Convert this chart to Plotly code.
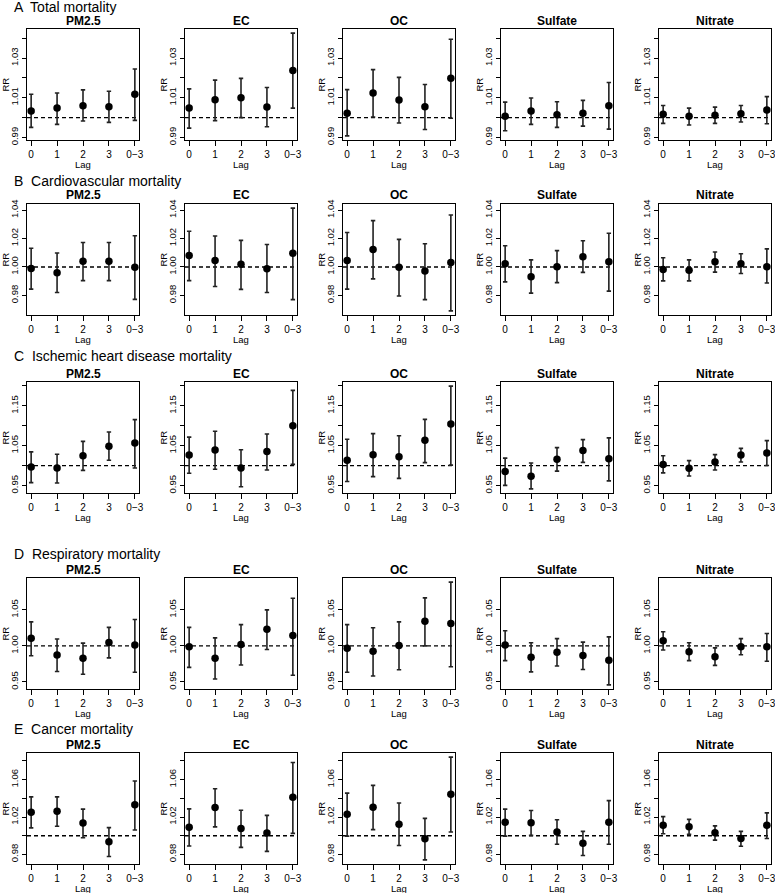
import plotly.graph_objects as go

W, H = 775, 893

lags = ["0", "1", "2", "3", "0\u22123"]
pollutants = ["PM2.5", "EC", "OC", "Sulfate", "Nitrate"]
outcomes = ["A  Total mortality", "B  Cardiovascular mortality",
            "C  Ischemic heart disease mortality", "D  Respiratory mortality",
            "E  Cancer mortality"]

# ---- Total mortality (rows: PM2.5, EC, OC, Sulfate, Nitrate; cols: lags) ----
total_rr = [[1.0034, 1.0048, 1.0060, 1.0055, 1.0118],
            [1.0048, 1.0090, 1.0100, 1.0053, 1.0237],
            [1.0022, 1.0124, 1.0089, 1.0055, 1.0198],
            [1.0007, 1.0034, 1.0015, 1.0022, 1.0060],
            [1.0017, 1.0007, 1.0012, 1.0019, 1.0039]]
total_lo = [[0.9951, 0.9966, 0.9983, 0.9976, 0.9986],
            [0.9947, 0.9985, 1.0000, 0.9954, 1.0048],
            [0.9908, 1.0003, 0.9973, 0.9940, 0.9997],
            [0.9934, 0.9966, 0.9951, 0.9957, 0.9942],
            [0.9971, 0.9963, 0.9971, 0.9978, 0.9969]]
total_hi = [[1.0118, 1.0124, 1.0140, 1.0133, 1.0245],
            [1.0145, 1.0189, 1.0198, 1.0152, 1.0426],
            [1.0141, 1.0242, 1.0203, 1.0167, 1.0395],
            [1.0078, 1.0099, 1.0080, 1.0087, 1.0177],
            [1.0061, 1.0048, 1.0053, 1.0061, 1.0106]]

# ---- Cardiovascular mortality ----
cardio_rr = [[0.9990, 0.9959, 1.0041, 1.0041, 0.9998],
             [1.0081, 1.0046, 1.0019, 0.9988, 1.0096],
             [1.0046, 1.0122, 0.9998, 0.9971, 1.0031],
             [1.0022, 0.9931, 1.0002, 1.0072, 1.0036],
             [0.9983, 0.9976, 1.0036, 1.0022, 1.0002]]
cardio_lo = [[0.9844, 0.9820, 0.9904, 0.9904, 0.9772],
             [0.9904, 0.9863, 0.9842, 0.9820, 0.9770],
             [0.9844, 0.9916, 0.9796, 0.9770, 0.9691],
             [0.9895, 0.9816, 0.9890, 0.9962, 0.9830],
             [0.9902, 0.9902, 0.9964, 0.9954, 0.9887]]
cardio_hi = [[1.0132, 1.0098, 1.0172, 1.0172, 1.0220],
             [1.0251, 1.0218, 1.0187, 1.0158, 1.0414],
             [1.0242, 1.0326, 1.0194, 1.0163, 1.0366],
             [1.0149, 1.0050, 1.0115, 1.0184, 1.0237],
             [1.0065, 1.0050, 1.0105, 1.0093, 1.0127]]

# ---- Ischemic heart disease mortality ----
ihd_rr = [[0.9969, 0.9943, 1.0250, 1.0487, 1.0566],
          [1.0268, 1.0390, 0.9943, 1.0355, 1.1004],
          [1.0136, 1.0276, 1.0224, 1.0636, 1.1048],
          [0.9855, 0.9732, 1.0162, 1.0382, 1.0171],
          [1.0031, 0.9934, 1.0092, 1.0268, 1.0320]]
ihd_lo = [[0.9575, 0.9566, 0.9882, 1.0136, 0.9943],
          [0.9811, 0.9908, 0.9469, 0.9890, 1.0031],
          [0.9601, 0.9724, 0.9680, 1.0075, 1.0013],
          [0.9504, 0.9417, 0.9864, 1.0083, 0.9618],
          [0.9820, 0.9741, 0.9890, 1.0092, 1.0004]]
ihd_hi = [[1.0346, 1.0285, 1.0610, 1.0846, 1.1154],
          [1.0715, 1.0864, 1.0399, 1.0794, 1.1890],
          [1.0662, 1.0803, 1.0750, 1.1162, 1.1996],
          [1.0189, 1.0066, 1.0452, 1.0654, 1.0697],
          [1.0250, 1.0127, 1.0276, 1.0434, 1.0627]]

# ---- Respiratory mortality ----
resp_rr = [[1.0105, 0.9871, 0.9829, 1.0048, 1.0010],
           [0.9986, 0.9829, 1.0019, 1.0229, 1.0143],
           [0.9967, 0.9924, 1.0005, 1.0343, 1.0310],
           [1.0010, 0.9843, 0.9910, 0.9867, 0.9800],
           [1.0071, 0.9919, 0.9848, 0.9986, 0.9986]]
resp_lo = [[0.9862, 0.9643, 0.9605, 0.9833, 0.9633],
           [0.9700, 0.9538, 0.9733, 0.9948, 0.9590],
           [0.9633, 0.9581, 0.9667, 1.0000, 0.9710],
           [0.9795, 0.9638, 0.9719, 0.9671, 0.9457],
           [0.9943, 0.9795, 0.9729, 0.9876, 0.9786]]
resp_hi = [[1.0333, 1.0095, 1.0038, 1.0257, 1.0367],
           [1.0257, 1.0110, 1.0295, 1.0500, 1.0662],
           [1.0295, 1.0252, 1.0333, 1.0667, 1.0886],
           [1.0210, 1.0043, 1.0100, 1.0052, 1.0124],
           [1.0195, 1.0043, 0.9971, 1.0100, 1.0171]]

# ---- Cancer mortality ----
cancer_rr = [[1.0251, 1.0262, 1.0135, 0.9935, 1.0331],
             [1.0091, 1.0302, 1.0076, 1.0029, 1.0411],
             [1.0229, 1.0305, 1.0124, 0.9967, 1.0444],
             [1.0145, 1.0138, 1.0040, 0.9920, 1.0145],
             [1.0113, 1.0095, 1.0033, 0.9971, 1.0113]]
cancer_lo = [[1.0084, 1.0102, 0.9978, 0.9778, 1.0062],
             [0.9891, 1.0095, 0.9876, 0.9833, 1.0025],
             [0.9996, 1.0065, 0.9895, 0.9742, 1.0040],
             [0.9996, 1.0004, 0.9909, 0.9789, 0.9909],
             [1.0022, 1.0015, 0.9953, 0.9887, 0.9971]]
cancer_hi = [[1.0415, 1.0415, 1.0284, 1.0087, 1.0585],
             [1.0287, 1.0502, 1.0273, 1.0218, 1.0782],
             [1.0455, 1.0538, 1.0349, 1.0185, 1.0840],
             [1.0284, 1.0269, 1.0171, 1.0047, 1.0375],
             [1.0204, 1.0175, 1.0105, 1.0047, 1.0244]]

# y tick values and labels per outcome row
total_ticks = [0.99, 1.00, 1.01, 1.02, 1.03, 1.04]
total_labels = ["0.99", "", "1.01", "", "1.03", ""]
cardio_ticks = [0.98, 1.00, 1.02, 1.04]
cardio_labels = ["0.98", "1.00", "1.02", "1.04"]
ihd_ticks = [0.95, 1.00, 1.05, 1.10, 1.15, 1.20]
ihd_labels = ["0.95", "", "1.05", "", "1.15", ""]
resp_ticks = [0.95, 1.00, 1.05]
resp_labels = ["0.95", "1.00", "1.05"]
cancer_ticks = [0.98, 1.00, 1.02, 1.04, 1.06, 1.08]
cancer_labels = ["0.98", "", "1.02", "", "1.06", ""]

rows = [
    (total_rr, total_lo, total_hi, total_ticks, total_labels),
    (cardio_rr, cardio_lo, cardio_hi, cardio_ticks, cardio_labels),
    (ihd_rr, ihd_lo, ihd_hi, ihd_ticks, ihd_labels),
    (resp_rr, resp_lo, resp_hi, resp_ticks, resp_labels),
    (cancer_rr, cancer_lo, cancer_hi, cancer_ticks, cancer_labels),
]

# ---- layout geometry (pixels) ----
col_left = [27, 185, 343, 501, 659]
box_w = 112
row_top = [29, 204, 382, 578, 753]
box_h = 111
section_y = [7, 181, 356, 554, 729]

FONT = "Liberation Sans, Arial, Helvetica, sans-serif"

fig = go.Figure()
layout = dict(
    width=W, height=H,
    margin=dict(l=0, r=0, t=0, b=0, autoexpand=False),
    paper_bgcolor="white", plot_bgcolor="white",
    showlegend=False,
    font=dict(family=FONT, color="black"),
)
annotations = []
shapes = []


def px_x(p):
    return p / W


def px_y(p):
    return 1 - p / H


for r, (rr_all, lo_all, hi_all, tv, tt) in enumerate(rows):
    ymin = min(min(v) for v in lo_all)
    ymax = max(max(v) for v in hi_all)
    span = ymax - ymin
    yrange = [ymin - 0.04 * span, ymax + 0.04 * span]
    top = row_top[r]
    bot = top + box_h
    annotations.append(dict(
        text=outcomes[r], x=px_x(12), y=px_y(section_y[r]), xref="paper", yref="paper",
        xanchor="left", yanchor="middle", showarrow=False,
        font=dict(size=14, family=FONT, color="black")))
    for c in range(5):
        k = r * 5 + c + 1
        xs = "x" if k == 1 else f"x{k}"
        ys = "y" if k == 1 else f"y{k}"
        rr = rr_all[c]
        lo = lo_all[c]
        hi = hi_all[c]
        fig.add_trace(go.Scatter(
            x=lags, y=rr, mode="markers", xaxis=xs, yaxis=ys,
            marker=dict(size=7.5, color="black"),
            error_y=dict(type="data", symmetric=False,
                         array=[h - m for h, m in zip(hi, rr)],
                         arrayminus=[m - l for m, l in zip(rr, lo)],
                         color="#222222", thickness=1.6, width=2.2),
            hoverinfo="skip"))
        left = col_left[c]
        right = left + box_w
        xkey = "xaxis" if k == 1 else f"xaxis{k}"
        ykey = "yaxis" if k == 1 else f"yaxis{k}"
        layout[xkey] = dict(
            domain=[px_x(left), px_x(right)], anchor=ys, automargin=False,
            type="category", categoryorder="array", categoryarray=lags,
            range=[-0.16, 4.16], ticklabelstandoff=0,
            showline=True, mirror=True, linecolor="black", linewidth=1.2,
            ticks="outside", ticklen=5, tickwidth=1, tickcolor="black",
            showgrid=False, zeroline=False,
            tickfont=dict(size=10, family=FONT, color="black"))
        layout[ykey] = dict(
            domain=[px_y(bot), px_y(top)], anchor=xs, automargin=False,
            range=yrange, tickmode="array", tickvals=tv, ticktext=tt,
            tickangle=-90, ticklabelstandoff=0,
            showline=True, mirror=True, linecolor="black", linewidth=1.2,
            ticks="outside", ticklen=4, tickwidth=1, tickcolor="black",
            showgrid=False, zeroline=False,
            tickfont=dict(size=9.5, family=FONT, color="black"))
        shapes.append(dict(
            type="line", xref=f"{xs} domain", yref=ys, x0=0, x1=1, y0=1.0, y1=1.0,
            line=dict(color="black", width=1.4, dash="4px,3px"), layer="below"))
        cx = (left + right) / 2
        annotations.append(dict(
            text=f"<b>{pollutants[c]}</b>", x=px_x(cx), y=px_y(top - 8.5),
            xref="paper", yref="paper", xanchor="center", yanchor="middle",
            showarrow=False, font=dict(size=12, family=FONT, color="black")))
        annotations.append(dict(
            text="Lag", x=px_x(cx), y=px_y(bot + 24.5),
            xref="paper", yref="paper", xanchor="center", yanchor="middle",
            showarrow=False, font=dict(size=9.5, family=FONT, color="black")))
        annotations.append(dict(
            text="RR", x=px_x(left - 22), y=px_y((top + bot) / 2),
            xref="paper", yref="paper", xanchor="center", yanchor="middle",
            textangle=-90, showarrow=False,
            font=dict(size=9.5, family=FONT, color="black")))

layout["annotations"] = annotations
layout["shapes"] = shapes
fig.update_layout(**layout)
fig.write_html("out.html",
               config={"displayModeBar": False},
               post_script="document.body.style.margin='0';document.body.style.padding='0';")
